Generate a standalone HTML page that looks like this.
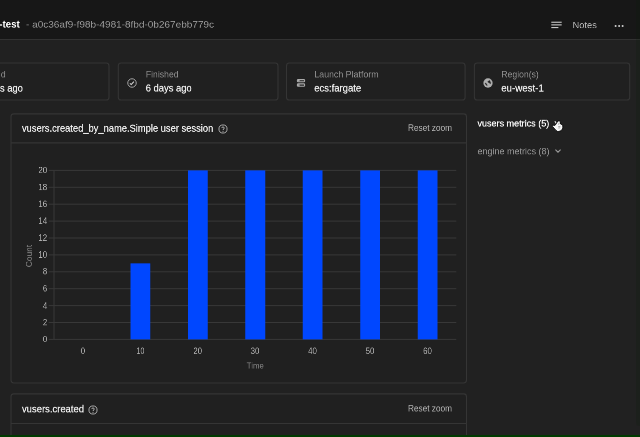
<!DOCTYPE html>
<html><head><meta charset="utf-8">
<style>
*{box-sizing:border-box;margin:0;padding:0}
html,body{width:640px;height:437px;overflow:hidden;background:#212121;font-family:"Liberation Sans",sans-serif;color:#fff}
.abs{position:absolute}
.t{position:absolute;white-space:nowrap;line-height:1;transform-origin:0 0}
.card{position:absolute;border:1px solid #353535;border-radius:4px;background:#202020}
</style></head><body><div style="position:absolute;left:0;top:0;width:640px;height:437px;transform:translateZ(0);will-change:transform">
<div class="abs" style="left:0;top:0;width:640px;height:38.5px;background:#171717"></div>
<div class="abs" style="left:0;top:38.5px;width:640px;height:1.1px;background:#323232"></div>
<svg class="abs" style="left:551px;top:20px" width="12" height="10" viewBox="0 0 12 10"><path d="M0.3 2.22H10.7M0.3 4.9H10.7M0.3 7.62H7.4" stroke="#dcdcdc" stroke-width="1" fill="none"/></svg>
<svg class="abs" style="left:614px;top:23.5px" width="10" height="4" viewBox="0 0 10 4"><circle cx="1.6" cy="2" r="1" fill="#d0d0d0"/><circle cx="5.1" cy="2" r="1" fill="#d0d0d0"/><circle cx="8.6" cy="2" r="1" fill="#d0d0d0"/></svg>
<svg class="abs" style="left:0;top:0" width="640" height="437" viewBox="0 0 640 437"><g stroke="#353535" stroke-width="1.1" fill="none"><rect x="-51" y="63.05" width="160.00" height="37.00" rx="2.9" fill="#202020"/><rect x="118.3" y="63.05" width="159.70" height="37.00" rx="2.9" fill="#202020"/><rect x="286.5" y="63.05" width="178.60" height="37.00" rx="2.9" fill="#202020"/><rect x="474.4" y="63.05" width="155.30" height="37.00" rx="2.9" fill="#202020"/><rect x="11.0" y="113.85" width="455.50" height="269.15" rx="2.9" fill="#202020"/><rect x="11.0" y="393.9" width="455.50" height="86.10" rx="2.9" fill="#202020"/><line x1="11.0" x2="466.5" y1="142.9" y2="142.9"/><line x1="11.0" x2="466.5" y1="423.5" y2="423.5"/></g></svg>
<svg class="abs" style="left:126.15px;top:76.75px" width="12" height="12" viewBox="0 0 12 12"><circle cx="6" cy="6" r="4.25" stroke="#a2a2a2" stroke-width="1" fill="none"/><path d="M3.9 6.4L5.25 7.6L7.85 4.7" stroke="#d4d4d4" stroke-width="1.1" fill="none"/></svg>
<svg class="abs" style="left:294.55px;top:76.75px" width="12" height="12" viewBox="0 0 12 12"><g stroke="#ababab" stroke-width="1.1" fill="none"><rect x="2.4" y="2.65" width="7.2" height="2.1" rx="0.8"/><rect x="2.4" y="6.9" width="7.2" height="2.3" rx="0.8"/></g><rect x="2.6" y="2.9" width="2" height="1.6" fill="#ababab"/><rect x="2.6" y="7.2" width="2" height="1.7" fill="#ababab"/></svg>
<svg class="abs" style="left:481.9px;top:76.7px" width="12" height="12" viewBox="0 0 12 12"><circle cx="6" cy="6" r="4.65" fill="#aeaeae"/><path d="M5.6 4.7L7.6 3.3L8.8 5.7L8.3 7.1L7.2 5.7L6.3 5.4Z M3.1 5.9L3.9 6.0L5.4 8.2L4.9 8.7L3.5 7.2Z" fill="#202020" stroke="#202020" stroke-width="0.25" stroke-linejoin="round"/></svg>
<svg class="abs" style="left:216.6px;top:122.9px" width="12" height="12" viewBox="0 0 12 12"><circle cx="6" cy="6" r="4.05" stroke="#b4b4b4" stroke-width="0.9" fill="none"/><path d="M4.75 5.05C4.75 3.55 7.25 3.55 7.25 5.05C7.25 6 6 6 6 7" stroke="#b4b4b4" stroke-width="1" fill="none"/><circle cx="6" cy="8.25" r="0.6" fill="#b4b4b4"/></svg>
<svg class="abs" style="left:0;top:150px" width="640" height="230" viewBox="0 150 640 230"><g stroke="#383838" stroke-width="1"><line x1="48.7" x2="456.3" y1="339.40" y2="339.40"/><line x1="48.7" x2="456.3" y1="322.50" y2="322.50"/><line x1="48.7" x2="456.3" y1="305.60" y2="305.60"/><line x1="48.7" x2="456.3" y1="288.70" y2="288.70"/><line x1="48.7" x2="456.3" y1="271.80" y2="271.80"/><line x1="48.7" x2="456.3" y1="254.90" y2="254.90"/><line x1="48.7" x2="456.3" y1="238.00" y2="238.00"/><line x1="48.7" x2="456.3" y1="221.10" y2="221.10"/><line x1="48.7" x2="456.3" y1="204.20" y2="204.20"/><line x1="48.7" x2="456.3" y1="187.30" y2="187.30"/><line x1="48.7" x2="456.3" y1="170.40" y2="170.40"/><line x1="54" x2="54" y1="170.40" y2="339.40"/></g><g fill="#0047ff"><rect x="130.5" y="263.35" width="19.75" height="76.05"/><rect x="188" y="170.40" width="19.75" height="169.00"/><rect x="245.25" y="170.40" width="20.00" height="169.00"/><rect x="302.75" y="170.40" width="19.75" height="169.00"/><rect x="360.25" y="170.40" width="19.75" height="169.00"/><rect x="417.75" y="170.40" width="19.75" height="169.00"/></g></svg>
<div class="t" style="left:28.85px;top:255.7px;font-size:16.4px;color:#8a8a8a;transform-origin:50% 50%;transform:translate(-50%,-50%) rotate(-90deg) scale(0.51,0.5);will-change:transform">Count</div>
<svg class="abs" style="left:554px;top:147.75px" width="8" height="6" viewBox="0 0 8 6"><path d="M1.4 1.6L4 4.2L6.6 1.6" stroke="#9a9a9a" stroke-width="1.1" fill="none"/></svg>
<svg class="abs" style="left:87.4px;top:403.6px" width="12" height="12" viewBox="0 0 12 12"><circle cx="6" cy="6" r="4.05" stroke="#b4b4b4" stroke-width="0.9" fill="none"/><path d="M4.75 5.05C4.75 3.55 7.25 3.55 7.25 5.05C7.25 6 6 6 6 7" stroke="#b4b4b4" stroke-width="1" fill="none"/><circle cx="6" cy="8.25" r="0.6" fill="#b4b4b4"/></svg>
<div class="t" id="ttl" style="left:-1px;top:18.22px;font-size:20.80px;color:#ffffff;font-weight:bold;transform:translate(0.30px,1.08px) scale(0.4656,0.5) rotate(0.01deg);will-change:transform;">-test</div>
<div class="t" id="uuid" style="left:26px;top:18.89px;font-size:19.20px;color:#989898;transform:translate(0.00px,0.60px) scale(0.5214,0.5) rotate(0.01deg);will-change:transform;">- a0c36af9-f98b-4981-8fbd-0b267ebb779c</div>
<div class="t" id="notes" style="left:572px;top:19.89px;font-size:19.20px;color:#b4b4b4;transform:translate(0.50px,0.26px) scale(0.4868,0.5) rotate(0.01deg);will-change:transform;">Notes</div>
<div class="t" id="l0" style="left:0px;top:68.98px;font-size:19.00px;color:#8f8f8f;transform:translate(0.90px,0.46px) scale(0.4443,0.5) rotate(0.01deg);will-change:transform;">d</div>
<div class="t" id="v0" style="left:0px;top:82.55px;font-size:20.00px;color:#f2f2f2;-webkit-text-stroke:0.4px;transform:translate(0.00px,0.12px) scale(0.4679,0.5) rotate(0.01deg);will-change:transform;">s ago</div>
<div class="t" id="l1" style="left:145px;top:68.98px;font-size:19.00px;color:#8f8f8f;transform:translate(0.80px,0.46px) scale(0.4566,0.5) rotate(0.01deg);will-change:transform;">Finished</div>
<div class="t" id="v1" style="left:145px;top:82.55px;font-size:20.00px;color:#f2f2f2;-webkit-text-stroke:0.4px;transform:translate(0.70px,-0.00px) scale(0.4701,0.5) rotate(0.01deg);will-change:transform;">6 days ago</div>
<div class="t" id="l2" style="left:314px;top:68.98px;font-size:19.00px;color:#8f8f8f;transform:translate(0.30px,0.46px) scale(0.4647,0.5) rotate(0.01deg);will-change:transform;">Launch Platform</div>
<div class="t" id="v2" style="left:314px;top:82.55px;font-size:20.00px;color:#f2f2f2;-webkit-text-stroke:0.4px;transform:translate(0.20px,0.04px) scale(0.4750,0.5) rotate(0.01deg);will-change:transform;">ecs:fargate</div>
<div class="t" id="l3" style="left:501px;top:68.98px;font-size:19.00px;color:#8f8f8f;transform:translate(0.30px,0.46px) scale(0.4552,0.5) rotate(0.01deg);will-change:transform;">Region(s)</div>
<div class="t" id="v3" style="left:501px;top:82.55px;font-size:20.00px;color:#f2f2f2;-webkit-text-stroke:0.4px;transform:translate(0.20px,0.04px) scale(0.4863,0.5) rotate(0.01deg);will-change:transform;">eu-west-1</div>
<div class="t" id="c1t" style="left:22px;top:122.47px;font-size:20.20px;color:#f0f0f0;-webkit-text-stroke:0.4px;transform:translate(0.00px,1.17px) scale(0.4631,0.5) rotate(0.01deg);will-change:transform;">vusers.created_by_name.Simple user session</div>
<div class="t" id="rz1" style="left:408px;top:123.40px;font-size:18.00px;color:#b4b4b4;transform:translate(0.00px,0.39px) scale(0.4581,0.5) rotate(0.01deg);will-change:transform;">Reset zoom</div>
<div class="t" id="vm" style="left:477px;top:117.89px;font-size:19.20px;color:#ffffff;-webkit-text-stroke:0.4px;transform:translate(0.50px,0.49px) scale(0.4706,0.5) rotate(0.01deg);will-change:transform;">vusers metrics (5)</div>
<div class="t" id="em" style="left:477px;top:145.89px;font-size:19.20px;color:#949494;transform:translate(0.50px,0.39px) scale(0.4689,0.5) rotate(0.01deg);will-change:transform;">engine metrics (8)</div>
<div class="t" id="c2t" style="left:22px;top:403.47px;font-size:20.20px;color:#f0f0f0;-webkit-text-stroke:0.4px;transform:translate(0.00px,0.88px) scale(0.4683,0.5) rotate(0.01deg);will-change:transform;">vusers.created</div>
<div class="t" id="rz2" style="left:408px;top:403.40px;font-size:18.00px;color:#b4b4b4;transform:translate(0.00px,0.97px) scale(0.4581,0.5) rotate(0.01deg);will-change:transform;">Reset zoom</div>
<div class="t" id="time" style="left:246px;top:360.74px;font-size:17.20px;color:#8a8a8a;transform:translate(0.75px,0.50px) scale(0.4526,0.5) rotate(0.01deg);will-change:transform;">Time</div>
<div class="t" id="y0" style="left:42px;top:334.57px;font-size:17.60px;color:#b2b2b2;transform:translate(0.90px,0.25px) scale(0.4389,0.5) rotate(0.01deg);will-change:transform;">0</div>
<div class="t" id="y2" style="left:42px;top:317.57px;font-size:17.60px;color:#b2b2b2;transform:translate(0.90px,0.35px) scale(0.4389,0.5) rotate(0.01deg);will-change:transform;">2</div>
<div class="t" id="y4" style="left:42px;top:300.57px;font-size:17.60px;color:#b2b2b2;transform:translate(0.90px,0.86px) scale(0.4389,0.5) rotate(0.01deg);will-change:transform;">4</div>
<div class="t" id="y6" style="left:42px;top:283.57px;font-size:17.60px;color:#b2b2b2;transform:translate(0.90px,0.48px) scale(0.4389,0.5) rotate(0.01deg);will-change:transform;">6</div>
<div class="t" id="y8" style="left:42px;top:266.57px;font-size:17.60px;color:#b2b2b2;transform:translate(0.90px,0.40px) scale(0.4389,0.5) rotate(0.01deg);will-change:transform;">8</div>
<div class="t" id="y10" style="left:38px;top:249.57px;font-size:17.60px;color:#b2b2b2;transform:translate(0.30px,0.75px) scale(0.4546,0.5) rotate(0.01deg);will-change:transform;">10</div>
<div class="t" id="y12" style="left:38px;top:232.57px;font-size:17.60px;color:#b2b2b2;transform:translate(0.30px,0.85px) scale(0.4546,0.5) rotate(0.01deg);will-change:transform;">12</div>
<div class="t" id="y14" style="left:38px;top:215.57px;font-size:17.60px;color:#b2b2b2;transform:translate(0.30px,0.95px) scale(0.4546,0.5) rotate(0.01deg);will-change:transform;">14</div>
<div class="t" id="y16" style="left:38px;top:199.57px;font-size:17.60px;color:#b2b2b2;transform:translate(0.30px,0.05px) scale(0.4546,0.5) rotate(0.01deg);will-change:transform;">16</div>
<div class="t" id="y18" style="left:38px;top:182.57px;font-size:17.60px;color:#b2b2b2;transform:translate(0.30px,0.27px) scale(0.4546,0.5) rotate(0.01deg);will-change:transform;">18</div>
<div class="t" id="y20" style="left:38px;top:165.57px;font-size:17.60px;color:#b2b2b2;transform:translate(0.30px,0.25px) scale(0.4546,0.5) rotate(0.01deg);will-change:transform;">20</div>
<div class="t" id="x0" style="left:80px;top:346.57px;font-size:17.60px;color:#b2b2b2;transform:translate(0.75px,0.00px) scale(0.4389,0.5) rotate(0.01deg);will-change:transform;">0</div>
<div class="t" id="x1" style="left:136px;top:346.57px;font-size:17.60px;color:#b2b2b2;transform:translate(0.55px,0.00px) scale(0.4035,0.5) rotate(0.01deg);will-change:transform;">10</div>
<div class="t" id="x2" style="left:193px;top:346.57px;font-size:17.60px;color:#b2b2b2;transform:translate(0.32px,0.00px) scale(0.4469,0.5) rotate(0.01deg);will-change:transform;">20</div>
<div class="t" id="x3" style="left:250px;top:346.57px;font-size:17.60px;color:#b2b2b2;transform:translate(0.62px,0.00px) scale(0.4469,0.5) rotate(0.01deg);will-change:transform;">30</div>
<div class="t" id="x4" style="left:308px;top:346.57px;font-size:17.60px;color:#b2b2b2;transform:translate(0.12px,0.00px) scale(0.4469,0.5) rotate(0.01deg);will-change:transform;">40</div>
<div class="t" id="x5" style="left:365px;top:346.57px;font-size:17.60px;color:#b2b2b2;transform:translate(0.62px,0.00px) scale(0.4469,0.5) rotate(0.01deg);will-change:transform;">50</div>
<div class="t" id="x6" style="left:423px;top:346.57px;font-size:17.60px;color:#b2b2b2;transform:translate(0.12px,0.00px) scale(0.4469,0.5) rotate(0.01deg);will-change:transform;">60</div>
<svg class="abs" style="left:545px;top:112px" width="25" height="25" viewBox="545 112 25 25"><path d="M554.9 121.3L556.3 123.4" stroke="#e8e8e8" stroke-width="1.1" fill="none"/><path d="M552.4 125.0L554.8 125.5L556.0 124.0L557.9 120.9L560.3 121.1L560.6 124.0L562.7 124.9L562.9 128.0L561.4 130.6L557.9 131.8L555.8 130.2L553.9 128.0L552.3 126.2Z" fill="#f6f6f6" stroke="#0a0a0a" stroke-width="0.9" stroke-linejoin="round"/><path d="M558.2 126.6L560.4 126.4M558.3 128.0L560.2 127.8" stroke="#8a8a8a" stroke-width="0.7" fill="none"/><path d="M558.6 124.6L559.4 122.6" stroke="#555" stroke-width="0.6" fill="none"/></svg>
<div class="abs" style="left:636.4px;top:0;width:3.6px;height:426px;background:rgba(0,32,0,0.13);border-bottom-left-radius:3px"></div>
<div class="abs" style="left:0;top:435px;width:640px;height:2px;background:#003a00"></div>
</div></body></html>
